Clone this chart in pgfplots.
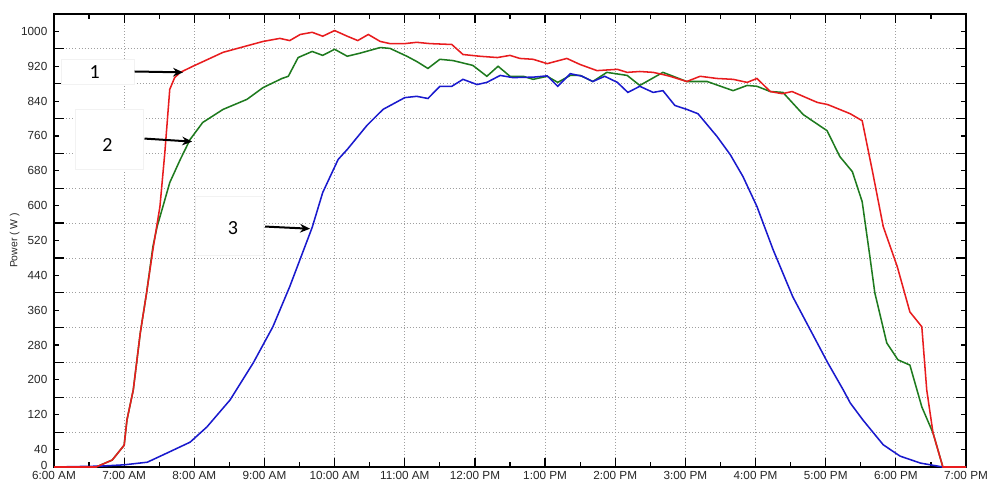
\documentclass[border=0pt]{standalone}
\usepackage{pgfplots}
\pgfplotsset{compat=1.18}
\usepackage{fontspec}
\setmainfont{Liberation Sans}
\newfontfamily\annfont{Carlito}
\usetikzlibrary{arrows.meta}
\definecolor{cred}{RGB}{232,28,30}
\definecolor{cgreen}{RGB}{30,122,30}
\definecolor{cblue}{RGB}{25,25,205}
\begin{document}
\begin{tikzpicture}
\useasboundingbox (-40.5pt,-11.25pt) rectangle (705pt,350.25pt);
\begin{axis}[
  at={(0,0)}, anchor=south west,
  scale only axis, width=684pt, height=339.75pt,
  xmin=6, xmax=19, ymin=0, ymax=1040,
  axis line style={line width=1pt},
  tick align=inside, xtick pos=both, ytick pos=both,
  tick style={black, line width=0.9pt},
  xtick={6,...,19},
  xticklabels={6:00 AM,7:00 AM,8:00 AM,9:00 AM,10:00 AM,11:00 AM,12:00 PM,1:00 PM,2:00 PM,3:00 PM,4:00 PM,5:00 PM,6:00 PM,7:00 PM},
  minor xtick={6.5,7.5,...,18.5},
  xmajorgrids=true, ymajorgrids=false,
  major tick length=3.75pt, minor tick length=3.75pt,
  ytick={0,40,120,200,280,360,440,520,600,680,760,840,920,1000},
  yticklabels={\raisebox{3pt}{0},40,120,200,280,360,440,520,600,680,760,840,920,1000},
  extra x ticks={7,8,...,18},
  extra x tick labels={},
  extra x tick style={xmajorgrids=true, major tick length=6.75pt},
  extra y ticks={80,160,240,320,400,480,560,640,720,800,880,960},
  extra y tick labels={},
  extra y tick style={ymajorgrids=true, major tick length=7.5pt},
  major grid style={gray!75, line width=0.6pt, dash pattern=on 0.6pt off 1.7pt},
  ticklabel style={font=\fontsize{8.8}{9.5}\selectfont, text=black!85},
  xticklabel style={yshift=0pt},
  yticklabel style={xshift=-1.5pt},
  ylabel={Power ( W )},
  ylabel style={font=\fontsize{7.8}{8.5}\selectfont, text=black!85, at={(axis description cs:-0.043,0.5)}, anchor=center},
  every axis plot/.append style={line width=1.15pt},
  clip=false,
]
\addplot[cgreen] coordinates {
(6,0) (6.6,0) (6.83,16) (7.0,50) (7.04,108) (7.13,177) (7.23,308) (7.32,400) (7.41,506) (7.47,552) (7.54,591) (7.65,653) (7.80,706) (7.94,752) (8.12,791) (8.41,821) (8.75,844) (8.98,871) (9.25,892) (9.34,897) (9.48,940) (9.68,954) (9.83,945) (10.0,959) (10.18,943) (10.36,950) (10.65,963) (10.79,961) (11.03,943) (11.17,931) (11.33,915) (11.50,936) (11.69,933) (11.97,922) (12.17,897) (12.33,920) (12.50,897) (12.69,897) (12.83,890) (13.03,897) (13.18,883) (13.36,899) (13.50,899) (13.68,885) (13.88,906) (14.17,899) (14.35,876) (14.68,906) (15.02,885) (15.31,885) (15.68,864) (15.88,876) (16.02,874) (16.21,862) (16.39,860) (16.68,809) (17.02,772) (17.20,713) (17.38,678) (17.52,609) (17.63,483) (17.70,400) (17.87,285) (18.03,246) (18.20,234) (18.37,138) (18.53,78) (18.67,0) (19,0)
};
\addplot[cblue] coordinates {
(6,0) (6.66,2) (7.0,5) (7.33,11) (7.61,32) (7.94,57) (8.18,92) (8.51,154) (8.84,239) (9.12,322) (9.36,414) (9.68,550) (9.83,630) (10.05,706) (10.18,729) (10.46,784) (10.69,821) (11.0,848) (11.17,851) (11.33,846) (11.50,874) (11.67,874) (11.83,890) (12.03,878) (12.17,883) (12.36,899) (12.54,894) (12.83,895) (13.03,898) (13.18,874) (13.36,903) (13.53,897) (13.68,885) (13.85,897) (14.03,883) (14.18,860) (14.35,874) (14.54,860) (14.68,864) (14.85,830) (15.02,821) (15.18,811) (15.45,759) (15.64,717) (15.82,667) (16.02,598) (16.25,499) (16.53,391) (16.78,315) (17.03,239) (17.25,177) (17.35,147) (17.53,108) (17.82,51) (18.06,25) (18.35,9) (18.67,0) (19,0)
};
\addplot[cred] coordinates {
(6,0) (6.6,0) (6.83,16) (7.0,50) (7.04,108) (7.13,177) (7.23,308) (7.32,400) (7.41,499) (7.51,598) (7.58,722) (7.65,867) (7.72,894) (7.80,906) (7.98,920) (8.41,952) (8.98,977) (9.22,984) (9.36,979) (9.51,993) (9.68,998) (9.83,989) (10.0,1002) (10.18,989) (10.33,979) (10.48,993) (10.65,977) (10.79,972) (11.0,972) (11.17,975) (11.36,972) (11.67,970) (11.83,947) (12.07,943) (12.32,940) (12.50,945) (12.64,938) (12.83,936) (13.03,926) (13.31,938) (13.50,924) (13.74,910) (14.03,913) (14.17,906) (14.35,908) (14.54,906) (14.68,901) (14.78,897) (15.02,885) (15.21,897) (15.45,892) (15.68,890) (15.88,883) (16.02,892) (16.21,862) (16.38,857) (16.52,862) (16.88,837) (17.03,832) (17.35,811) (17.52,795) (17.67,676) (17.82,552) (18.02,460) (18.20,356) (18.37,322) (18.44,177) (18.53,78) (18.67,0) (19,0)
};
% annotation boxes
\draw[black!5, fill=white] (axis cs:6.11,878) rectangle (axis cs:7.15,936);
\draw[black!5, fill=white] (axis cs:6.30,683) rectangle (axis cs:7.27,821);
\draw[black!5, fill=white] (axis cs:8.01,487) rectangle (axis cs:8.98,621);
\node[font=\annfont\fontsize{15}{16}\selectfont] at (axis cs:6.58,906) {1};
\node[font=\annfont\fontsize{15}{16}\selectfont] at (axis cs:6.76,740) {2};
\node[font=\annfont\fontsize{15}{16}\selectfont] at (axis cs:8.55,549) {3};
\draw[-{Stealth[length=7.5pt,width=6.5pt]}, line width=1.5pt] (axis cs:7.15,908) -- (axis cs:7.84,906);
\draw[-{Stealth[length=7.5pt,width=6.5pt]}, line width=1.5pt] (axis cs:7.29,754) -- (axis cs:7.97,747);
\draw[-{Stealth[length=7.5pt,width=6.5pt]}, line width=1.5pt] (axis cs:9.01,552) -- (axis cs:9.65,547);
\end{axis}
\end{tikzpicture}
\end{document}
